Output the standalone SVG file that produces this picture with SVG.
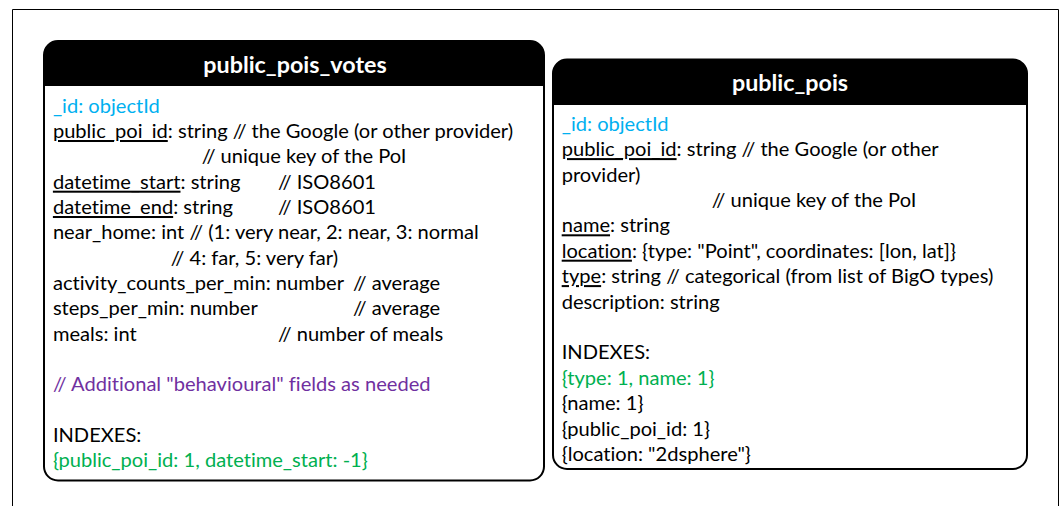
<svg xmlns="http://www.w3.org/2000/svg" width="1062" height="506" viewBox="0 0 1062 506">
  <style>
    .frame { fill: none; stroke: #000; stroke-width: 1; }
    .box { fill: none; stroke: #000; stroke-width: 2; }
    .head { fill: #000; }
    .title { font-family: Lato, "Liberation Sans", sans-serif; font-weight: bold; font-size: 23.3px; fill: #fff; text-anchor: middle; }
    .f { font-family: Lato, "Liberation Sans", sans-serif; font-size: 20.1px; fill: #000; font-variant-ligatures: none; }
    .key { text-decoration: underline; }
    .id { fill: #00B0F0; }
    .idx { fill: #00B050; }
    .note { fill: #7030A0; }
  </style>
  <rect width="1062" height="506" fill="#fff"/>
  <path class="frame" d="M12.5,506 V9.5 H1058.5 V506"/>

  <!-- collection: public_pois_votes -->
  <g id="public_pois_votes">
    <path class="head" d="M44,86 V55 A14,14 0 0 1 58,41 H530 A14,14 0 0 1 544,55 V86 Z"/>
    <rect class="box" x="44" y="41" width="500" height="439.5" rx="14"/>
    <text class="title" x="295" y="72.5">public_pois_votes</text>
    <text class="f id" x="52.9" y="112.7">_id: objectId</text>
    <text class="f" x="52.9" y="138"><tspan class="key">public_poi_id</tspan>: string // the Google (or other provider)</text>
    <text class="f" x="201.8" y="163.4">// unique key of the PoI</text>
    <text class="f" x="52.9" y="188.7"><tspan class="key">datetime_start</tspan>: string<tspan x="277.9">// ISO8601</tspan></text>
    <text class="f" x="52.9" y="214"><tspan class="key">datetime_end</tspan>: string<tspan x="277.9">// ISO8601</tspan></text>
    <text class="f" x="52.9" y="239.4">near_home: int // (1: very near, 2: near, 3: normal</text>
    <text class="f" x="170.7" y="264.7">// 4: far, 5: very far)</text>
    <text class="f" x="52.9" y="290">activity_counts_per_min: number<tspan x="352.9">// average</tspan></text>
    <text class="f" x="52.9" y="315.4">steps_per_min: number<tspan x="352.9">// average</tspan></text>
    <text class="f" x="52.9" y="340.7">meals: int<tspan x="277.9">// number of meals</tspan></text>
    <text class="f note" x="52.9" y="391.4">// Additional "behavioural" fields as needed</text>
    <text class="f" x="52.9" y="442.1">INDEXES:</text>
    <text class="f idx" x="52.9" y="467.4">{public_poi_id: 1, datetime_start: -1}</text>
  </g>

  <!-- collection: public_pois -->
  <g id="public_pois">
    <path class="head" d="M553,105 V73.5 A14,14 0 0 1 567,59.5 H1013 A14,14 0 0 1 1027,73.5 V105 Z"/>
    <rect class="box" x="553" y="59.5" width="474" height="409.5" rx="14"/>
    <text class="title" x="790" y="90.5">public_pois</text>
    <text class="f id" x="561.7" y="130.7">_id: objectId</text>
    <text class="f" x="561.7" y="156.1"><tspan class="key">public_poi_id</tspan>: string // the Google (or other</text>
    <text class="f" x="561.7" y="181.5">provider)</text>
    <text class="f" x="711.7" y="206.9">// unique key of the PoI</text>
    <text class="f" x="561.7" y="232.3"><tspan class="key">name</tspan>: string</text>
    <text class="f" x="561.7" y="257.7"><tspan class="key">location</tspan>: {type: "Point", coordinates: [lon, lat]}</text>
    <text class="f" x="561.7" y="283.1"><tspan class="key">type</tspan>: string // categorical (from list of BigO types)</text>
    <text class="f" x="561.7" y="308.5">description: string</text>
    <text class="f" x="561.7" y="359.3">INDEXES:</text>
    <text class="f idx" x="561.7" y="384.7">{type: 1, name: 1}</text>
    <text class="f" x="561.7" y="410.1">{name: 1}</text>
    <text class="f" x="561.7" y="435.5">{public_poi_id: 1}</text>
    <text class="f" x="561.7" y="460.9">{location: "2dsphere"}</text>
  </g>

  <g id="connectors"/>
</svg>
